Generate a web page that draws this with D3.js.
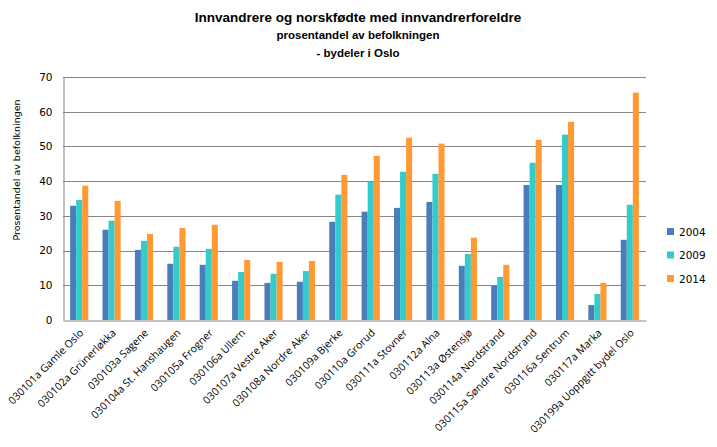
<!DOCTYPE html>
<html>
<head>
<meta charset="utf-8">
<script src="https://cdn.jsdelivr.net/npm/d3@7"></script>
<style>
  body { margin: 0; background: #fff; }
  svg text { fill: #000; }
</style>
</head>
<body>
<svg id="chart" width="717" height="447"></svg>
<script>
const districts = [
  "030101a Gamle Oslo", "030102a Grünerløkka", "030103a Sagene",
  "030104a St. Hanshaugen", "030105a Frogner", "030106a Ullern",
  "030107a Vestre Aker", "030108a Nordre Aker", "030109a Bjerke",
  "030110a Grorud", "030111a Stovner", "030112a Alna",
  "030113a Østensjø", "030114a Nordstrand", "030115a Søndre Nordstrand",
  "030116a Sentrum", "030117a Marka", "030199a Uoppgitt bydel Oslo"
];
const years = ["2004", "2009", "2014"];
const values2004 = [32.9, 26.0, 20.2, 16.2, 15.9, 11.3, 10.7, 11.0, 28.3, 31.2, 32.3, 34.0, 15.6, 9.8, 38.9, 38.9, 4.3, 23.1];
const values2009 = [34.6, 28.6, 22.8, 21.1, 20.5, 13.8, 13.3, 14.1, 36.1, 39.8, 42.7, 42.1, 19.0, 12.4, 45.3, 53.4, 7.5, 33.2];
const values2014 = [38.7, 34.3, 24.8, 26.5, 27.4, 17.3, 16.7, 17.0, 41.8, 47.3, 52.5, 50.8, 23.7, 15.9, 51.9, 57.1, 10.7, 65.5];
const yTicks = [0, 10, 20, 30, 40, 50, 60, 70];
const colors = ["#4a7ebb", "#33cccc", "#ff9933"];

const series = [values2004, values2009, values2014];
const margin = { left: 63, top: 77, right: 646, bottom: 320 };

const svg = d3.select("#chart");

const x = d3.scaleBand()
  .domain(districts)
  .range([margin.left, margin.right])
  .paddingInner(0.44)
  .paddingOuter(0.22);

const xInner = d3.scaleBand()
  .domain(years)
  .range([0, x.bandwidth()]);

const y = d3.scaleLinear()
  .domain([0, 70])
  .range([margin.bottom, margin.top]);

// gridlines
svg.append("g")
  .selectAll("line")
  .data(yTicks.slice(1))
  .enter()
  .append("line")
  .attr("x1", margin.left)
  .attr("x2", margin.right)
  .attr("y1", (d) => Math.round(y(d)) + 0.5)
  .attr("y2", (d) => Math.round(y(d)) + 0.5)
  .attr("stroke", "#868686")
  .attr("stroke-width", 1);

// bars
const groups = svg.append("g")
  .selectAll("g")
  .data(districts)
  .enter()
  .append("g")
  .attr("transform", (d) => `translate(${x(d)},0)`);

groups.selectAll("rect")
  .data((d, i) => years.map((yr, j) => ({ year: yr, value: series[j][i], k: j })))
  .enter()
  .append("rect")
  .attr("x", (d) => xInner(d.year))
  .attr("width", xInner.bandwidth())
  .attr("y", (d) => y(d.value))
  .attr("height", (d) => y(0) - y(d.value))
  .attr("fill", (d) => colors[d.k]);

// axes
const yAxis = svg.append("g")
  .attr("transform", `translate(${margin.left + 0.5},0)`)
  .call(d3.axisLeft(y).tickValues(yTicks).tickSize(0).tickPadding(11));
yAxis.select(".domain").attr("stroke", "#868686");
yAxis.selectAll("text")
  .attr("font-family", "DejaVu Sans")
  .attr("font-size", "10.5px");

const xAxis = svg.append("g")
  .attr("transform", `translate(0,${margin.bottom + 0.5})`)
  .call(d3.axisBottom(x).tickSize(0).tickPadding(0));
xAxis.select(".domain").attr("stroke", "#868686");
xAxis.selectAll("text")
  .attr("font-family", "Open Sans")
  .attr("font-size", "10.5px")
  .attr("text-anchor", "end")
  .attr("dy", null)
  .attr("y", 0)
  .attr("transform", "translate(5,13) rotate(-45)");

// titles
svg.append("text")
  .attr("x", 358)
  .attr("y", 22)
  .attr("text-anchor", "middle")
  .attr("font-family", "Liberation Sans")
  .attr("font-weight", "bold")
  .attr("font-size", "13.5px")
  .text("Innvandrere og norskfødte med innvandrerforeldre");

svg.append("text")
  .attr("x", 358)
  .attr("y", 39)
  .attr("text-anchor", "middle")
  .attr("font-family", "Liberation Sans")
  .attr("font-weight", "bold")
  .attr("font-size", "11.5px")
  .text("prosentandel av befolkningen");

svg.append("text")
  .attr("x", 358)
  .attr("y", 57)
  .attr("text-anchor", "middle")
  .attr("font-family", "Liberation Sans")
  .attr("font-weight", "bold")
  .attr("font-size", "11.5px")
  .text("- bydeler i Oslo");

svg.append("text")
  .attr("transform", "translate(20,170) rotate(-90)")
  .attr("text-anchor", "middle")
  .attr("font-family", "DejaVu Sans")
  .attr("font-size", "9.5px")
  .text("Prosentandel av befolkningen");

// legend
const legend = svg.append("g")
  .selectAll("g")
  .data(years)
  .enter()
  .append("g")
  .attr("transform", (d, i) => `translate(667,${228 + i * 23.5})`);

legend.append("rect")
  .attr("width", 7)
  .attr("height", 7)
  .attr("fill", (d, i) => colors[i]);

legend.append("text")
  .attr("x", 12)
  .attr("y", 7.5)
  .attr("font-family", "DejaVu Sans")
  .attr("font-size", "10.5px")
  .text((d) => d);
</script>
</body>
</html>
